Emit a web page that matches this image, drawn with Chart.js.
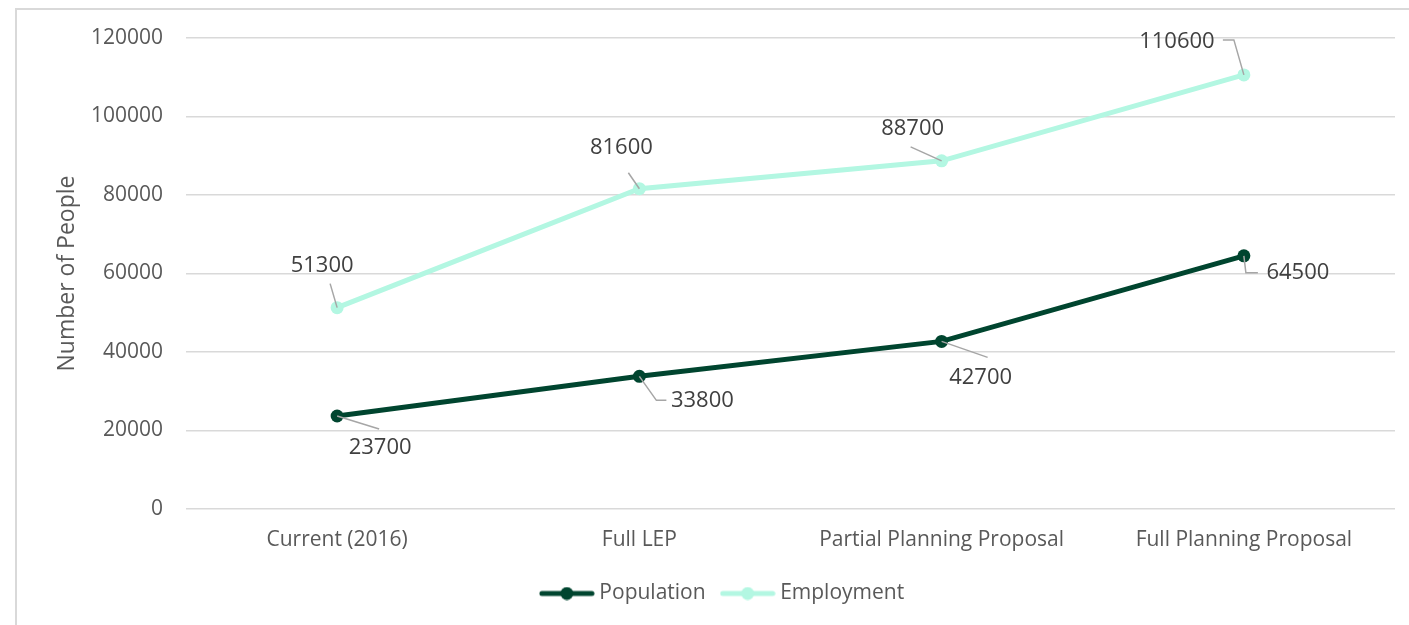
<!DOCTYPE html>
<html>
<head>
<meta charset="utf-8">
<script src="https://cdn.jsdelivr.net/npm/chart.js@4"></script>
<style>
  html, body { margin: 0; padding: 0; overflow: hidden; background: #fff; }
  #frame { position: absolute; left: 15px; top: 8px; width: 1500px; height: 700px; border: 2px solid #d9d9d9; }
  #wrap { position: absolute; left: 0; top: 0; width: 1409px; height: 625px; }
</style>
</head>
<body>
<div id="frame"></div>
<div id="wrap"><canvas id="chart" width="1409" height="625"></canvas></div>
<script>
const categories = ['Current (2016)', 'Full LEP', 'Partial Planning Proposal', 'Full Planning Proposal'];
const population = [23700, 33800, 42700, 64500];
const employment = [51300, 81600, 88700, 110600];

const FONT = '"Open Sans", sans-serif';
const darkGreen = '#00452f';
const mint = '#b3f7e2';

// where each value label sits relative to its point, plus the leader line path
const labelLayout = {
  0: [
    { text: [43, 32], leader: [[0, 0], [42, 13]] },
    { text: [63, 24], leader: [[0, 0], [17, 24], [27, 24]] },
    { text: [39, 36], leader: [[0, 0], [46, 16]] },
    { text: [54, 17], leader: [[0, 0], [2, 17], [14, 17]] },
  ],
  1: [
    { text: [-15, -42], leader: [[0, 0], [-7, -24]] },
    { text: [-18, -41], leader: [[0, 0], [-11, -16]] },
    { text: [-29, -32], leader: [[0, 0], [-31, -14]] },
    { text: [-67, -33], leader: [[0, 0], [-10, -35], [-21, -35]] },
  ],
};

const valueLabels = {
  id: 'valueLabels',
  afterDatasetsDraw(chart) {
    const ctx = chart.ctx;
    ctx.save();
    chart.data.datasets.forEach((ds, di) => {
      const meta = chart.getDatasetMeta(di);
      meta.data.forEach((pt, i) => {
        const lay = labelLayout[di][i];
        ctx.strokeStyle = '#a6a6a6';
        ctx.lineWidth = 1.5;
        ctx.beginPath();
        lay.leader.forEach(([dx, dy], k) => {
          if (k === 0) ctx.moveTo(pt.x + dx, pt.y + dy);
          else ctx.lineTo(pt.x + dx, pt.y + dy);
        });
        ctx.stroke();
        ctx.fillStyle = '#404040';
        ctx.font = '22px ' + FONT;
        ctx.textAlign = 'center';
        ctx.textBaseline = 'middle';
        ctx.fillText(String(ds.data[i]), pt.x + lay.text[0], pt.y + lay.text[1]);
      });
    });
    ctx.restore();
  }
};

function legendSample(color) {
  const c = document.createElement('canvas');
  c.width = 56; c.height = 14;
  const g = c.getContext('2d');
  g.strokeStyle = color;
  g.lineWidth = 5;
  g.lineCap = 'round';
  g.beginPath(); g.moveTo(3, 7); g.lineTo(53, 7); g.stroke();
  g.fillStyle = color;
  g.beginPath(); g.arc(28, 7, 6.5, 0, Math.PI * 2); g.fill();
  return c;
}

new Chart(document.getElementById('chart'), {
  type: 'line',
  data: {
    labels: categories,
    datasets: [
      { label: 'Population', data: population, borderColor: darkGreen, backgroundColor: darkGreen,
        borderWidth: 5, pointRadius: 6.5, pointHoverRadius: 6.5, pointBorderWidth: 0, pointStyle: 'circle' },
      { label: 'Employment', data: employment, borderColor: mint, backgroundColor: mint,
        borderWidth: 5, pointRadius: 6.5, pointHoverRadius: 6.5, pointBorderWidth: 0, pointStyle: 'circle' },
    ],
  },
  options: {
    responsive: false,
    animation: false,
    layout: { padding: { top: 38, right: 14, bottom: 11, left: 54 } },
    plugins: {
      tooltip: { enabled: false },
      legend: {
        position: 'bottom',
        labels: {
          usePointStyle: true,
          pointStyleWidth: 44,
          padding: 20,
          color: '#595959',
          font: { family: FONT, size: 21 },
          generateLabels(chart) {
            return chart.data.datasets.map((ds, i) => ({
              text: ds.label,
              pointStyle: legendSample(ds.borderColor),
              fontColor: '#595959',
              lineWidth: 0,
              datasetIndex: i,
            }));
          },
        },
      },
    },
    scales: {
      x: {
        offset: true,
        grid: { display: false },
        border: { display: false },
        ticks: { color: '#595959', font: { family: FONT, size: 21 }, padding: 10, maxRotation: 0 },
        afterFit(scale) { scale.height = 54; },
      },
      y: {
        min: 0,
        max: 120000,
        ticks: { stepSize: 20000, color: '#595959', font: { family: FONT, size: 21 }, padding: 23,
                 callback: (v) => String(v) },
        grid: { color: '#d9d9d9', lineWidth: 1.5, drawTicks: false },
        border: { display: false },
        title: { display: true, text: 'Number of People', color: '#595959',
                 font: { family: FONT, size: 23 }, padding: { top: 0, bottom: 0 } },
        afterFit(scale) { scale.width = 132; },
      },
    },
  },
  plugins: [valueLabels],
});
</script>
</body>
</html>
